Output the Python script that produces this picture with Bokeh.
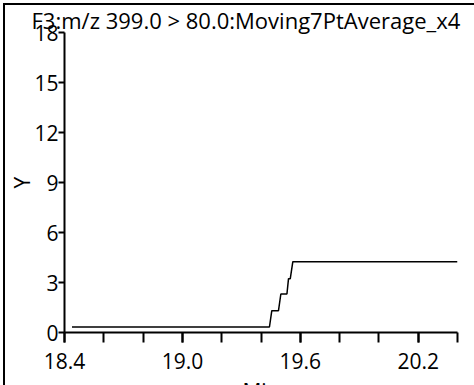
from bokeh.plotting import figure
from bokeh.models import FixedTicker, Range1d, Title
from bokeh.embed import file_html
from bokeh.resources import INLINE

# ---- data ----
title_text = "F3:m/z 399.0 > 80.0:Moving7PtAverage_x4"
x_label = "Min"
y_label = "Y"
times = [18.438, 19.443, 19.455, 19.489, 19.501, 19.532, 19.540, 19.549, 19.562, 20.4]
intensity = [0.33, 0.33, 1.31, 1.31, 2.31, 2.31, 3.23, 3.23, 4.25, 4.25]
x_major_ticks = [18.4, 19.0, 19.6, 20.2]
x_major_labels = ["18.4", "19.0", "19.6", "20.2"]
x_minor_ticks = [18.4, 18.6, 18.8, 19.0, 19.2, 19.4, 19.6, 19.8, 20.0, 20.2, 20.4]
y_major_ticks = [0, 3, 6, 9, 12, 15, 18]
x_limits = (18.4, 20.4)
y_limits = (0, 18)

FONT = "Open Sans"

p = figure(
    frame_width=393, frame_height=300,
    x_range=Range1d(*x_limits), y_range=Range1d(*y_limits),
    output_backend="svg", toolbar_location=None,
    min_border_left=40, min_border_right=18,
    min_border_top=20, min_border_bottom=10,
)
p.margin = (3, 0, 0, 3)
p.styles = {"border-top": "2px solid black", "border-left": "2px solid black"}
p.xgrid.visible = False
p.ygrid.visible = False
p.outline_line_color = None
p.background_fill_color = "white"
p.border_fill_color = "white"

p.add_layout(Title(text=title_text, text_font=FONT, text_font_size="22px",
                   text_font_style="normal", text_color="black",
                   align="left", offset=-33, standoff=-5), "above")

# x axis
xa = p.xaxis[0]
xa.ticker = FixedTicker(ticks=x_major_ticks, minor_ticks=x_minor_ticks)
xa.major_label_overrides = {t: l for t, l in zip(x_major_ticks, x_major_labels)}
xa.axis_line_width = 2
xa.axis_line_color = "black"
xa.major_tick_in = 0
xa.major_tick_out = 10
xa.minor_tick_in = 0
xa.minor_tick_out = 10
xa.major_tick_line_width = 2
xa.minor_tick_line_width = 2
xa.major_tick_line_color = "black"
xa.minor_tick_line_color = "black"
xa.major_label_text_font = FONT
xa.major_label_text_font_size = "21px"
xa.major_label_text_color = "black"
xa.major_label_standoff = 10
xa.axis_label = x_label
xa.axis_label_text_font = FONT
xa.axis_label_text_font_size = "21px"
xa.axis_label_text_font_style = "normal"
xa.axis_label_text_color = "black"
xa.axis_label_standoff = 5

# y axis
ya = p.yaxis[0]
ya.ticker = FixedTicker(ticks=y_major_ticks, minor_ticks=[])
ya.axis_line_width = 2
ya.axis_line_color = "black"
ya.major_tick_in = 0
ya.major_tick_out = 6
ya.minor_tick_in = 0
ya.minor_tick_out = 0
ya.major_tick_line_width = 2
ya.major_tick_line_color = "black"
ya.major_label_text_font = FONT
ya.major_label_text_font_size = "21px"
ya.major_label_text_color = "black"
ya.major_label_standoff = 0
ya.axis_label = y_label
ya.axis_label_text_font = FONT
ya.axis_label_text_font_size = "21px"
ya.axis_label_text_font_style = "normal"
ya.axis_label_text_color = "black"
ya.axis_label_standoff = -5

# data
p.line(times, intensity, line_color="black", line_width=1.5)

open("out.html", "w").write(file_html(p, INLINE))
